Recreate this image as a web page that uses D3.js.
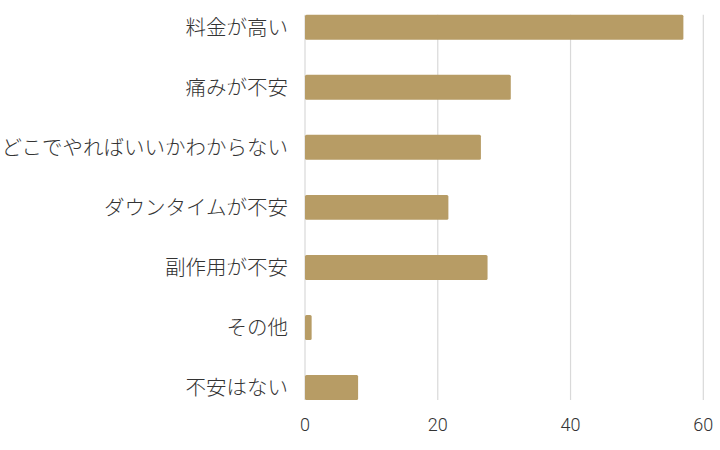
<!DOCTYPE html>
<html>
<head>
<meta charset="utf-8">
<script src="https://cdn.jsdelivr.net/npm/d3@7"></script>
<style>
  body { margin: 0; background: #fff; }
  svg { display: block; }
</style>
</head>
<body>
<script>
// answers, top to bottom
var categories = ["料金が高い", "痛みが不安", "どこでやればいいかわからない",
                  "ダウンタイムが不安", "副作用が不安", "その他", "不安はない"];
var values = [57, 31, 26.5, 21.6, 27.5, 1, 8];
var ticks = [0, 20, 40, 60];

var width = 720,
    height = 450;

var svg = d3.select("body").append("svg")
    .attr("width", width)
    .attr("height", height);

var x = d3.scaleLinear()
    .domain([0, 60])
    .range([305, 703.3]);

var y = d3.scaleBand()
    .domain(categories)
    .range([14.7, 400])
    .paddingInner(0.585)
    .paddingOuter(0);

// grid
svg.append("g")
  .selectAll("line")
    .data(ticks)
  .enter().append("line")
    .attr("x1", function(d){ return x(d); })
    .attr("x2", function(d){ return x(d); })
    .attr("y1", 14.7)
    .attr("y2", 400)
    .attr("stroke", "#d9d9d9")
    .attr("stroke-width", 1.2);

// bars
svg.append("g")
  .selectAll("rect")
    .data(values)
  .enter().append("rect")
    .attr("x", x(0))
    .attr("y", function(d, i){ return y(categories[i]); })
    .attr("width", function(d){ return x(d) - x(0); })
    .attr("height", y.bandwidth())
    .attr("rx", 1.5)
    .attr("fill", "#b79c65");

// category labels
svg.append("g")
  .selectAll("text")
    .data(categories)
  .enter().append("text")
    .attr("x", 288)
    .attr("y", function(d){ return y(d) + y.bandwidth() / 2; })
    .attr("dy", "0.36em")
    .attr("text-anchor", "end")
    .attr("font-family", "'Noto Sans CJK JP', 'Noto Sans', sans-serif")
    .attr("font-weight", 300)
    .attr("font-size", 20.5)
    .attr("fill", "#333")
    .text(function(d){ return d; });

// x tick labels
svg.append("g")
  .selectAll("text")
    .data(ticks)
  .enter().append("text")
    .attr("x", function(d){ return x(d); })
    .attr("y", 425)
    .attr("dy", "0.35em")
    .attr("text-anchor", "middle")
    .attr("font-family", "Roboto, 'Noto Sans', sans-serif")
    .attr("font-weight", 300)
    .attr("font-size", 18)
    .attr("fill", "#333")
    .text(function(d){ return d; });
</script>
</body>
</html>
